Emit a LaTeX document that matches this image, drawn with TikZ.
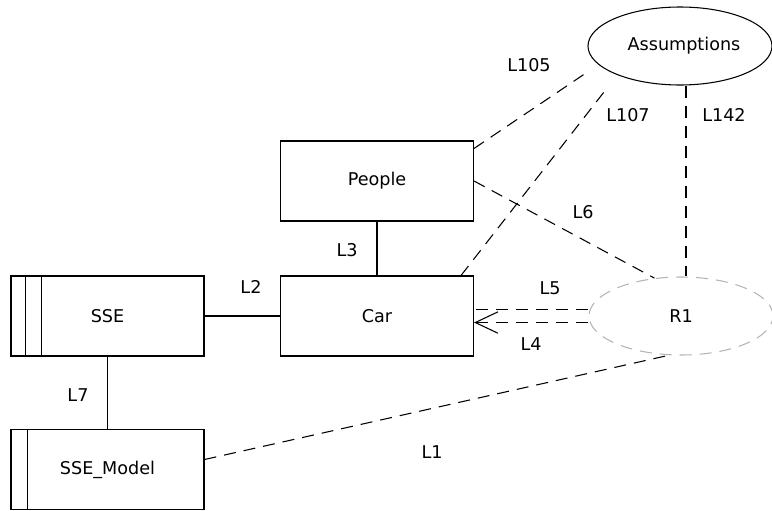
\documentclass[tikz,border=0pt]{standalone}
\usepackage{fontspec}
\setmainfont{DejaVu Sans}
\usetikzlibrary{shapes.geometric,arrows.meta,calc}
\definecolor{faint}{HTML}{B4B4B4}
\begin{document}
\begin{tikzpicture}[x=0.75pt,y=-0.75pt,
  font=\fontsize{13.2}{16}\selectfont,
  box/.style={draw,line width=0.8pt,minimum width=144.75pt,minimum height=60pt,inner sep=0pt},
  oval/.style={ellipse,draw,line width=0.8pt,inner sep=0pt,minimum width=138pt,minimum height=58.5pt},
  solidlink/.style={line width=0.8pt},
  dashlink/.style={line width=0.8pt,dash pattern=on 9pt off 6pt},
  lbl/.style={inner sep=0pt}]
\useasboundingbox (0,0) rectangle (772,511);

% blocks
\node[box] (sse) at (107.5,316) {SSE};
\node[box] (model) at (107.5,469.5) {SSE\_Model};
\node[box] (people) at (377,181) {People};
\node[box] (car) at (377,316) {Car};
\node[oval] (assump) at (680,46) {\hspace*{6pt}Assumptions};
\node[oval,draw=faint,dash pattern=on 9pt off 6pt] (req) at (681,316) {R1};

% side bars of the SSE blocks
\draw[solidlink] ([xshift=11.25pt]sse.north west) -- ([xshift=11.25pt]sse.south west);
\draw[solidlink] ([xshift=23.25pt]sse.north west) -- ([xshift=23.25pt]sse.south west);
\draw[solidlink] ([xshift=12.75pt]model.north west) -- ([xshift=12.75pt]model.south west);

% solid links
\draw[solidlink] (sse.east) -- (car.west);
\draw[solidlink] (people.south) -- (car.north);
\draw[solidlink] (sse.south) -- (model.north);

% dashed links
\draw[dashlink] ([yshift=-6pt]people.north east) -- ([yshift=-19.5pt]assump.west);
\draw[dashlink] ([xshift=-9.75pt]car.north east) -- ([xshift=-54pt,yshift=-1pt]assump.south);
\draw[dashlink] ([xshift=4.5pt]assump.south) -- ([xshift=4.5pt]assump.south |- req.north);
\draw[dashlink] (people.east) -- (req.125);
\draw[dashlink] ([yshift=4.9pt]req.west) -- ([yshift=4.9pt]car.east);
\draw[dashlink,-{Straight Barb[length=17pt,width=16pt,line width=0.8pt]}] ([yshift=-4.9pt]req.west) -- ([yshift=-4.9pt]car.east);
\draw[dashlink] ([yshift=7.5pt]model.east) -- ([xshift=-10pt]req.south);

% link labels
\node[lbl] (l2) at (251,287) {L2};
\node[lbl] (l3) at (347,250) {L3};
\node[lbl] (l7) at (78,395) {L7};
\node[lbl] (l105) at (529,65) {L105};
\node[lbl] (l107) at (628,115) {L107};
\node[lbl] (l142) at (724,115) {L142};
\node[lbl] (l6) at (583,212) {L6};
\node[lbl] (l5) at (550,288) {L5};
\node[lbl] (l4) at (531,344) {L4};
\node[lbl] (l1) at (432,452) {L1};
\end{tikzpicture}
\end{document}
